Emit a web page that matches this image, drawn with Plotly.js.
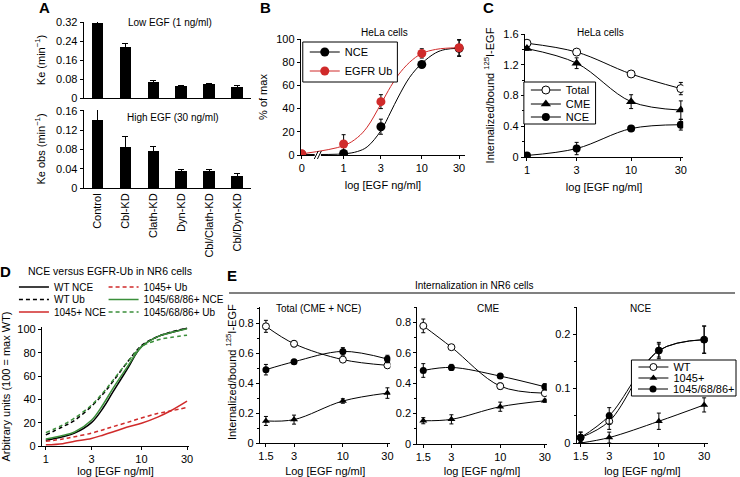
<!DOCTYPE html>
<html>
<head>
<meta charset="utf-8">
<script src="https://cdn.plot.ly/plotly-3.0.1.min.js"></script>
<style>html,body{margin:0;padding:0;background:#fff}</style>
</head>
<body>
<div id="fig" style="width:740px;height:477px"></div>
<script>
FIG = document.getElementById('fig');

// ---- Panel A: endocytic rate constants per knockdown
var aCats = ['Control', 'Cbl-KD', 'Clath-KD', 'Dyn-KD', 'Cbl/Clath-KD', 'Cbl/Dyn-KD'];
var aLow = [0.316, 0.215, 0.067, 0.049, 0.058, 0.046];
var aLowErr = [0.011, 0.014, 0.007, 0.004, 0.005, 0.008];
var aHigh = [0.141, 0.086, 0.077, 0.036, 0.035, 0.025];
var aHighErr = [0.022, 0.021, 0.009, 0.003, 0.004, 0.006];

// ---- Panel B: HeLa, NCE vs EGFR Ub (% of max)
var bDose = [0, 1, 3, 10, 30];
var bNce = [0.6, 1.4, 24.4, 78, 92];
var bNceErr = [0, 0, 6.5, 2, 7];
var bUb = [1, 9.5, 46, 87.6, 92.5];
var bUbErr = [0, 8, 6, 4, 7];
// fitted curves
var bFitDose = [0, 1, 1.5, 2, 3, 4, 5, 7, 10, 15, 20, 30];
var bFitNce = [0.5, 1, 3, 7, 21, 37, 50, 67, 79, 88, 91, 92];
var bFitUb = [1, 8, 15, 24, 44, 59, 69, 80, 87.5, 91, 92, 92.5];

// ---- Panel C: HeLa, internalized/bound
var cDose = [1, 3, 10, 30];
var cTotal = [1.48, 1.365, 1.08, 0.89];
var cTotalErr = [0.04, 0.02, 0.02, 0.08];
var cCme = [1.41, 1.22, 0.72, 0.61];
var cCmeErr = [0.02, 0.07, 0.09, 0.12];
var cNce = [0.02, 0.11, 0.37, 0.42];
var cNceErr = [0.01, 0.08, 0.02, 0.07];

// ---- Panel D: NR6 fitted curves
var dDose = [1, 1.5, 2, 3, 4, 5, 7, 10, 15, 20, 30];
var dWtNce = [5, 8, 11, 20, 33, 46, 65, 85, 94, 97, 101];
var dWtUb = [9.5, 16.5, 22, 34, 45, 55, 71, 86, 94, 97.5, 101];
var dM1Nce = [1, 2, 4, 6.5, 9.5, 12, 16, 19.5, 25, 30, 38.5];
var dM1Ub = [4, 6, 8, 11, 14, 16.5, 20, 24, 28, 30, 33];
var dM3Nce = [6, 9, 12, 22, 36, 49, 67, 85, 94, 97, 100.5];
var dM3Ub = [11.5, 18, 24, 35, 46, 56, 71, 85, 91, 93, 95];

// ---- Panel E: NR6 internalization
var eDose = [1.5, 3, 10, 30];
var eTotWt = [0.778, 0.662, 0.556, 0.518], eTotWtErr = [0.04, 0.02, 0.015, 0.015];
var eTotM1 = [0.147, 0.156, 0.28, 0.333], eTotM1Err = [0.03, 0.03, 0.015, 0.035];
var eTotM3 = [0.489, 0.542, 0.611, 0.56], eTotM3Err = [0.035, 0.015, 0.025, 0.025];
var eCmeWt = [0.776, 0.636, 0.38, 0.334], eCmeWtErr = [0.045, 0.015, 0.02, 0.015];
var eCmeM1 = [0.153, 0.162, 0.245, 0.284], eCmeM1Err = [0.02, 0.03, 0.03, 0.01];
var eCmeM3 = [0.483, 0.503, 0.446, 0.376], eCmeM3Err = [0.045, 0.02, 0.015, 0.02];
var eNceWt = [0.01, 0.04, 0.17, 0.19], eNceWtErr = [0.01, 0.015, 0.012, 0.025];
var eNceM1 = [0, 0.01, 0.04, 0.07], eNceM1Err = [0.003, 0.01, 0.015, 0.013];
var eNceM3 = [0.01, 0.05, 0.17, 0.19], eNceM3Err = [0.01, 0.015, 0.015, 0.025];

var RED = '#d02a2a', GREEN = '#3b8f3b';
var FONT = 'Liberation Sans, Arial, sans-serif';
var W = 740, H = 477;
function hdom(a, b) { return [a / W, b / W]; }
function vdom(top, bottom) { return [1 - bottom / H, 1 - top / H]; }
function px(x) { return x / W; }
function py(y) { return 1 - y / H; }

// B uses a broken axis: 0 sits left of the break, the rest is log
var B_ZERO = -0.535;
function bPos(d) { return d === 0 ? B_ZERO : Math.log10(d); }

function err(arr, w) {
    return {type: 'data', array: arr, color: 'black', thickness: 1, width: w || 2};
}
var openC = {symbol: 'circle', color: 'white', size: 7, line: {color: 'black', width: 1}};
var fillC = {symbol: 'circle', color: 'black', size: 7};
var tri = {symbol: 'triangle-up', color: 'black', size: 7};
function big(m, s) { return Object.assign({}, m, {size: s}); }

var data = [];
// A
data.push({x: aCats, y: aLow, type: 'bar', width: 0.42, marker: {color: 'black'},
    error_y: err(aLowErr, 3), xaxis: 'x', yaxis: 'y', showlegend: false});
data.push({x: aCats, y: aHigh, type: 'bar', width: 0.42, marker: {color: 'black'},
    error_y: err(aHighErr, 3), xaxis: 'x2', yaxis: 'y2', showlegend: false});

// B
data.push({x: bFitDose.map(bPos), y: bFitNce, mode: 'lines', line: {color: 'black', width: 1, shape: 'spline'},
    xaxis: 'x3', yaxis: 'y3', showlegend: false});
data.push({x: bFitDose.map(bPos), y: bFitUb, mode: 'lines', line: {color: RED, width: 1, shape: 'spline'},
    xaxis: 'x3', yaxis: 'y3', showlegend: false});
data.push({x: bDose.map(bPos), y: bNce, mode: 'markers', marker: {color: 'black', size: 9},
    error_y: err(bNceErr, 2), xaxis: 'x3', yaxis: 'y3', showlegend: false});
data.push({x: bDose.map(bPos), y: bUb, mode: 'markers', marker: {color: RED, size: 9},
    error_y: err(bUbErr, 2), xaxis: 'x3', yaxis: 'y3', showlegend: false});
// legend carriers (one legend per row so rows can sit close together)
data.push({x: [null], y: [null], mode: 'lines+markers', name: 'NCE', line: {color: 'black', width: 1},
    marker: {color: 'black', size: 9}, xaxis: 'x3', yaxis: 'y3', legend: 'legend'});
data.push({x: [null], y: [null], mode: 'lines+markers', name: 'EGFR Ub', line: {color: RED, width: 1},
    marker: {color: RED, size: 9}, xaxis: 'x3', yaxis: 'y3', legend: 'legend2'});

// C
[['Total', cTotal, cTotalErr, big(openC, 8), 'legend3'], ['CME', cCme, cCmeErr, big(tri, 9), 'legend4'],
 ['NCE', cNce, cNceErr, big(fillC, 8), 'legend5']]
.forEach(function (s) {
    data.push({x: cDose, y: s[1], name: s[0], mode: 'lines+markers', line: {color: 'black', width: 1, shape: 'spline'},
        marker: s[3], error_y: err(s[2], 2), xaxis: 'x4', yaxis: 'y4', legend: s[4]});
});

// D: two legend columns of three rows
[['WT NCE', dWtNce, 'black', 'solid', 'legend6'], ['WT Ub', dWtUb, 'black', '4px,3px', 'legend7'],
 ['1045+ NCE', dM1Nce, RED, 'solid', 'legend8'], ['1045+ Ub', dM1Ub, RED, '4px,3px', 'legend9'],
 ['1045/68/86+ NCE', dM3Nce, GREEN, 'solid', 'legend10'], ['1045/68/86+ Ub', dM3Ub, GREEN, '4px,3px', 'legend11']]
.forEach(function (s) {
    data.push({x: dDose, y: s[1], name: s[0], mode: 'lines', line: {color: s[2], width: 1.5, dash: s[3], shape: 'spline'},
        xaxis: 'x5', yaxis: 'y5', legend: s[4]});
});

// E
var eSets = [
    ['x6', 'y6', eTotWt, eTotWtErr, eTotM1, eTotM1Err, eTotM3, eTotM3Err],
    ['x7', 'y7', eCmeWt, eCmeWtErr, eCmeM1, eCmeM1Err, eCmeM3, eCmeM3Err],
    ['x8', 'y8', eNceWt, eNceWtErr, eNceM1, eNceM1Err, eNceM3, eNceM3Err]
];
eSets.forEach(function (s, i) {
    var lg = i === 2;
    data.push({x: eDose, y: s[2], name: 'WT', mode: 'lines+markers', line: {color: 'black', width: 1, shape: 'spline'},
        marker: openC, error_y: err(s[3]), xaxis: s[0], yaxis: s[1], showlegend: lg, legend: 'legend12'});
    data.push({x: eDose, y: s[4], name: '1045+', mode: 'lines+markers', line: {color: 'black', width: 1, shape: 'spline'},
        marker: tri, error_y: err(s[5]), xaxis: s[0], yaxis: s[1], showlegend: lg, legend: 'legend13'});
    data.push({x: eDose, y: s[6], name: '1045/68/86+', mode: 'lines+markers', line: {color: 'black', width: 1, shape: 'spline'},
        marker: fillC, error_y: err(s[7]), xaxis: s[0], yaxis: s[1], showlegend: lg, legend: 'legend14'});
});

function axis(extra) {
    return Object.assign({showline: true, linecolor: 'black', linewidth: 1, showgrid: false, zeroline: false,
        ticks: 'outside', ticklen: 3, tickcolor: 'black', tickfont: {size: 11, color: 'black'},
        fixedrange: true}, extra);
}
function ttl(text, standoff) { return {text: text, font: {size: 11, color: 'black'}, standoff: standoff}; }

var logTicks = {tickmode: 'array', tickvals: [1, 3, 10, 30], ticktext: ['1', '3', '10', '30']};
var eTicks = {tickmode: 'array', tickvals: [1.5, 3, 10, 30], ticktext: ['1.5', '3', '10', '30']};

// single-row legend placed by the centre of its row (Plotly puts the row ~14.5px below the top)
function leg(left, rowY, size) {
    return {x: px(left), y: py(rowY - 14.5), xanchor: 'left', yanchor: 'top',
        bgcolor: 'rgba(0,0,0,0)', borderwidth: 0, font: {size: size || 11}};
}
function box(l, t, r, b) {
    return {type: 'rect', xref: 'paper', yref: 'paper', x0: px(l), x1: px(r), y0: py(b), y1: py(t),
        line: {color: 'black', width: 1}, fillcolor: 'white', layer: 'above'};
}

var layout = {
    width: W, height: H,
    margin: {l: 0, r: 0, t: 0, b: 0},
    paper_bgcolor: 'white', plot_bgcolor: 'rgba(0,0,0,0)',
    font: {family: FONT, size: 11, color: 'black'},
    bargap: 0,
    // A
    xaxis: axis({domain: hdom(84, 252), anchor: 'y', type: 'category', showticklabels: false, ticks: ''}),
    yaxis: axis({domain: vdom(22, 98), anchor: 'x', range: [0, 0.32], dtick: 0.08, title: ttl('Ke (min<sup>−1</sup>)', 8)}),
    xaxis2: axis({domain: hdom(84, 252), anchor: 'y2', type: 'category', ticks: '', tickangle: -90}),
    yaxis2: axis({domain: vdom(110, 188), anchor: 'x2', range: [0, 0.162], dtick: 0.04, title: ttl('Ke obs (min<sup>−1</sup>)', 8)}),
    // B
    xaxis3: axis({domain: hdom(302, 467), anchor: 'y3', range: [-0.548, 1.554], tickmode: 'array',
        tickvals: bDose.map(bPos), ticktext: ['0', '1', '3', '10', '30'], title: ttl('log [EGF ng/ml]', 8)}),
    yaxis3: axis({domain: vdom(39, 155), anchor: 'x3', range: [0, 100], dtick: 20, title: ttl('% of max', 6)}),
    // C
    xaxis4: axis(Object.assign({domain: hdom(527, 686), anchor: 'y4', type: 'log', range: [-0.02, 1.5],
        title: ttl('log [EGF ng/ml]', 8)}, logTicks)),
    yaxis4: axis({domain: vdom(34, 157), anchor: 'x4', range: [0, 1.6], dtick: 0.4,
        minor: {dtick: 0.2, ticks: 'outside', ticklen: 2, tickcolor: 'black'},
        title: ttl('Internalized/bound <sup>125</sup>I-EGF', 6)}),
    // D
    xaxis5: axis(Object.assign({domain: hdom(42, 190), anchor: 'y5', type: 'log', range: [-0.042, 1.5],
        title: ttl('log [EGF ng/ml]', 8)}, logTicks)),
    yaxis5: axis({domain: vdom(327, 446), anchor: 'x5', range: [0, 102], tickvals: [0, 20, 40, 60, 80, 100],
        tickmode: 'array', title: ttl('Arbitrary units (100 = max WT)', 6)}),
    // E
    xaxis6: axis(Object.assign({domain: hdom(261, 392), anchor: 'y6', type: 'log', range: [0.112, 1.509],
        title: ttl('Log [EGF ng/ml]', 8)}, eTicks)),
    yaxis6: axis({domain: vdom(307, 443), anchor: 'x6', range: [0, 0.907], dtick: 0.2,
        minor: {dtick: 0.1, ticks: 'outside', ticklen: 2, tickcolor: 'black'}}),
    xaxis7: axis(Object.assign({domain: hdom(419, 549), anchor: 'y7', type: 'log', range: [0.112, 1.498],
        title: ttl('log [EGF ng/ml]', 8)}, eTicks)),
    yaxis7: axis({domain: vdom(307, 444), anchor: 'x7', range: [0, 0.9], dtick: 0.2,
        minor: {dtick: 0.1, ticks: 'outside', ticklen: 2, tickcolor: 'black'}}),
    xaxis8: axis(Object.assign({domain: hdom(579, 711), anchor: 'y8', type: 'log', range: [0.134, 1.519],
        title: ttl('log [EGF ng/ml]', 8)}, eTicks)),
    yaxis8: axis({domain: vdom(307, 443), anchor: 'x8', range: [0, 0.25], dtick: 0.1,
        minor: {dtick: 0.05, ticks: 'outside', ticklen: 2, tickcolor: 'black'}}),

    legend: leg(306, 52),
    legend2: leg(306, 71),
    legend3: leg(528, 90),
    legend4: leg(528, 104),
    legend5: leg(528, 117),
    legend6: leg(14, 287, 10),
    legend7: leg(14, 299.5, 10),
    legend8: leg(14, 312, 10),
    legend9: leg(104, 287, 10),
    legend10: leg(104, 299.5, 10),
    legend11: leg(104, 312, 10),
    legend12: leg(636, 367),
    legend13: leg(636, 378),
    legend14: leg(636, 389),

    shapes: [
        // axis break on B
        {type: 'line', xref: 'x3', yref: 'paper', x0: -0.37, x1: -0.29, y0: py(155), y1: py(155),
            line: {color: 'white', width: 3}, layer: 'above'},
        {type: 'line', xref: 'x3', yref: 'paper', x0: -0.375, x1: -0.325, y0: py(159), y1: py(151),
            line: {color: 'black', width: 1}, layer: 'above'},
        {type: 'line', xref: 'x3', yref: 'paper', x0: -0.335, x1: -0.285, y0: py(159), y1: py(151),
            line: {color: 'black', width: 1}, layer: 'above'},
        // header rule for E
        {type: 'line', xref: 'paper', yref: 'paper', x0: px(230), x1: px(738), y0: py(293), y1: py(293),
            line: {color: '#808080', width: 2}},
        // legend frames
        box(304, 42, 399, 82),
        box(526, 82, 598, 124),
        box(634, 360, 739, 396)
    ],
    annotations: [
        {text: '<b>A</b>', x: px(45), y: py(8)},
        {text: '<b>B</b>', x: px(267), y: py(8)},
        {text: '<b>C</b>', x: px(490), y: py(8)},
        {text: '<b>D</b>', x: px(6), y: py(271)},
        {text: '<b>E</b>', x: px(233), y: py(275)},
        {text: 'Low EGF (1 ng/ml)', x: px(171), y: py(23), size: 10},
        {text: 'High EGF (30 ng/ml)', x: px(174), y: py(118), size: 10},
        {text: 'HeLa cells', x: px(386), y: py(32), size: 10},
        {text: 'HeLa cells', x: px(603), y: py(32), size: 10},
        {text: 'NCE versus EGFR-Ub in NR6 cells', x: px(110), y: py(271), size: 10.5},
        {text: 'Internalization in NR6 cells', x: px(476), y: py(285), size: 10},
        {text: 'Total (CME + NCE)', x: px(320), y: py(308), size: 10},
        {text: 'CME', x: px(490), y: py(308), size: 10},
        {text: 'NCE', x: px(643), y: py(308), size: 10},
        {text: 'Internalized/bound <sup>125</sup>I-EGF', x: px(232), y: py(372), size: 11, angle: -90}
    ].map(function (a) {
        var bold = a.text.indexOf('<b>') === 0;
        return {text: a.text, x: a.x, y: a.y, xref: 'paper', yref: 'paper', showarrow: false,
            xanchor: 'center', yanchor: 'middle', textangle: a.angle || 0,
            font: {family: FONT, size: bold ? 15 : a.size, color: 'black'}};
    })
};

var config = {staticPlot: true, responsive: false};

Plotly.newPlot(FIG, data, layout, config);
</script>
</body>
</html>
